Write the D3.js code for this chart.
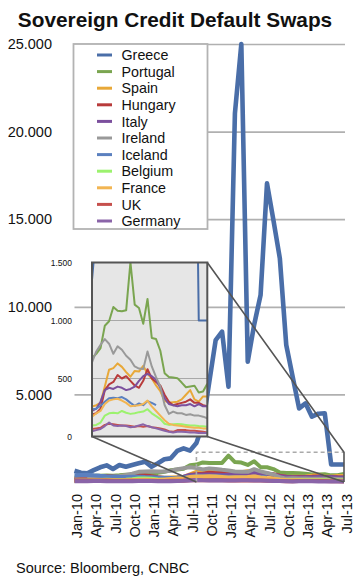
<!DOCTYPE html>
<html><head><meta charset="utf-8">
<script src="https://cdn.jsdelivr.net/npm/d3@7"></script>
<style>
html,body{margin:0;padding:0;background:#fff;}
text{font-family:"Liberation Sans",Arial,Helvetica,sans-serif;fill:#111;}
</style></head>
<body>
<svg id="chart" width="357" height="582"></svg>
<script>
// ---------- DATA ----------
const categories = ["Jan-10","Feb-10","Mar-10","Apr-10","May-10","Jun-10","Jul-10","Aug-10","Sep-10","Oct-10","Nov-10","Dec-10",
  "Jan-11","Feb-11","Mar-11","Apr-11","May-11","Jun-11","Jul-11","Aug-11","Sep-11","Oct-11","Nov-11","Dec-11",
  "Jan-12","Feb-12","Mar-12","Apr-12","May-12","Jun-12","Jul-12","Aug-12","Sep-12","Oct-12","Nov-12","Dec-12",
  "Jan-13","Feb-13","Mar-13","Apr-13","May-13","Jun-13","Jul-13"];
const tickLabels = ["Jan-10","Apr-10","Jul-10","Oct-10","Jan-11","Apr-11","Jul-11","Oct-11","Jan-12","Apr-12","Jul-12","Oct-12","Jan-13","Apr-13","Jul-13"];
const mainTicks = [5000,10000,15000,20000,25000];
const insetTicks = [0,500,1000,1500];
const insetGrid = [500,1000];
const insetStart = "Apr-11", insetEnd = "Jul-13";
const zoomStart = "Aug-11", zoomTop = 1700;

const seriesNames = ["Greece","Portugal","Spain","Hungary","Italy","Ireland","Iceland","Belgium","France","UK","Germany"];
const seriesColors = ["#4a6ea8","#7aa550","#e8a838","#b83b3b","#7b4f9d","#999999","#5b80bf","#9cf26e","#f2b552","#c6504d","#8a64a8"];

const greece   = [640,530,500,680,840,950,740,970,870,970,1070,1160,870,1070,1300,1350,1770,1920,1790,2230,3300,5700,8100,8580,5440,21040,25000,6870,8980,10670,17050,14950,12770,7820,6010,4200,4490,3730,3900,3920,1000,1000,1000];
const portugal = [250,270,300,360,350,370,360,380,420,430,470,500,520,520,580,676,713,762,955,993,1117,1085,1079,1088,1502,1137,1108,972,1186,849,840,739,546,512,509,503,465,425,431,437,379,388,454];
const spain    = [100,110,120,180,200,220,230,200,220,250,300,320,300,250,240,258,270,290,430,575,590,630,600,555,515,565,560,610,540,500,440,390,310,290,295,300,320,360,400,320,300,345,345];
const hungary  = [180,190,200,260,300,330,310,280,300,330,370,380,330,270,230,190,200,240,400,450,470,530,500,520,480,440,420,480,580,500,470,440,360,300,270,280,290,300,320,290,290,270,260];
const italy    = [100,110,120,180,200,190,180,170,200,220,230,220,200,190,200,220,240,300,400,420,410,430,420,400,410,430,480,520,540,520,490,420,330,280,270,260,270,270,280,260,280,260,260];
const ireland  = [150,140,160,230,250,280,300,330,400,480,580,600,620,600,600,640,733,791,840,800,713,777,748,696,661,604,586,581,733,604,511,431,272,195,215,200,200,186,192,180,180,171,157];
const iceland  = [380,400,420,380,350,330,320,300,290,300,300,280,270,250,240,235,240,265,300,330,335,330,340,320,290,265,285,270,305,290,270,null,null,null,null,null,null,null,null,null,null,null,null];
const belgium  = [60,70,80,100,110,130,120,110,130,160,200,200,180,140,110,95,100,120,180,200,205,200,220,205,195,200,210,215,235,200,175,150,110,100,105,108,105,100,95,95,90,88,85];
const france   = [50,60,65,80,90,100,95,90,100,110,120,130,120,110,140,170,200,220,280,310,320,325,310,290,260,265,270,280,310,260,220,180,140,110,100,95,90,85,80,75,75,70,70];
const uk       = [80,85,80,90,85,80,75,70,65,70,75,70,65,60,60,65,70,75,100,110,105,100,95,95,90,85,90,85,90,80,75,70,60,45,40,55,55,55,50,50,45,40,35];
const germany  = [40,40,45,50,50,45,40,38,40,45,50,55,50,45,42,45,55,65,90,120,95,90,95,90,80,85,95,105,90,80,70,60,50,40,35,40,40,38,35,35,30,30,30];

const seriesValues = [greece,portugal,spain,hungary,italy,ireland,iceland,belgium,france,uk,germany];

// ---------- DRAW ----------
const svg = d3.select("#chart");
const loc = d3.formatLocale({decimal:",", thousands:".", grouping:[3], currency:["",""]});
const fmt = loc.format(",");

const x = d3.scalePoint().domain(categories).range([74.5, 344]);
const y = d3.scaleLinear().domain([0, 25000]).range([482, 44]);

// title
const title = svg.append("text").attr("x", 175).attr("y", 27).attr("text-anchor","middle")
  .style("font-weight","bold").style("font-size","20.8px").text("Sovereign Credit Default Swaps");

// main gridlines + y labels
const yAxis = d3.axisLeft(y).tickValues(mainTicks).tickFormat(fmt).tickSize(-(345 - 74.5)).tickPadding(22.5);
const gy = svg.append("g").attr("transform","translate(74.5,0)").call(yAxis);
gy.select(".domain").remove();
gy.selectAll(".tick line").attr("stroke","#b0b0b0").attr("stroke-width",1.7);
gy.selectAll(".tick text").style("font-size","14.5px").attr("fill","#111").style("font-family",'"Liberation Sans",Arial,sans-serif');

// x axis labels
const xAxis = d3.axisBottom(x).tickValues(tickLabels).tickSize(0);
const gx = svg.append("g").attr("transform","translate(0,482)").call(xAxis);
gx.select(".domain").remove();
gx.selectAll(".tick text")
  .attr("transform","rotate(-90)").attr("x",-12).attr("y",2).attr("dy","0.35em")
  .attr("text-anchor","end").style("font-size","14.5px").attr("fill","#111")
  .style("font-family",'"Liberation Sans",Arial,sans-serif');

// main lines
const line = d3.line().defined(d => d != null)
  .x((d,i) => x(categories[i])).y(d => y(d));
seriesValues.forEach((vals, k) => {
  svg.append("path").datum(vals).attr("d", line).attr("fill","none")
    .attr("stroke", seriesColors[k]).attr("stroke-width", k === 0 ? 4.6 : 4)
    .attr("stroke-linejoin","round").attr("stroke-linecap","butt");
});

// dashed zoom rectangle
const zx0 = x(zoomStart), zx1 = x(insetEnd), zyTop = y(zoomTop), zyBot = y(0);
svg.append("path").attr("d", `M${zx0},${zyBot}V${zyTop}H${zx1}`)
  .attr("fill","none").attr("stroke","#aaa").attr("stroke-width",1.6).attr("stroke-dasharray","4,3");

// legend
const lg = svg.append("g");
lg.append("rect").attr("x",73.5).attr("y",44).attr("width",134).attr("height",185)
  .attr("fill","#fff").attr("stroke","#b3b3b3").attr("stroke-width",1.8);
seriesNames.forEach((n,i) => {
  const cy = 55 + i*16.6;
  lg.append("line").attr("x1",97).attr("x2",112).attr("y1",cy).attr("y2",cy)
    .attr("stroke",seriesColors[i]).attr("stroke-width",3);
  lg.append("text").attr("x",121.5).attr("y",cy).attr("dy","0.36em")
    .style("font-size","14.3px").text(n);
});

// inset
const iL = 92, iR = 207.3, iT = 262.5, iB = 436.5;
const xi = d3.scaleLinear().domain([categories.indexOf(insetStart), categories.indexOf(insetEnd)]).range([iL, iR]);
const yi = d3.scaleLinear().domain([0, 1500]).range([iB, iT]);
svg.append("defs").append("clipPath").attr("id","insetClip")
  .append("rect").attr("x",iL).attr("y",iT).attr("width",iR-iL).attr("height",iB-iT);
const ig = svg.append("g");
ig.append("rect").attr("x",iL).attr("y",iT).attr("width",iR-iL).attr("height",iB-iT).attr("fill","#e6e6e6");
ig.selectAll("line.ig").data(insetGrid).join("line").attr("class","ig")
  .attr("x1",iL).attr("x2",iR).attr("y1",d=>yi(d)).attr("y2",d=>yi(d))
  .attr("stroke","#a8a8a8").attr("stroke-width",1.2);
const iline = d3.line().defined(d => d != null).x((d,i) => xi(i)).y(d => yi(d));
const il = ig.append("g").attr("clip-path","url(#insetClip)");
seriesValues.forEach((vals,k) => {
  il.append("path").datum(vals).attr("d", iline).attr("fill","none")
    .attr("stroke", seriesColors[k]).attr("stroke-width", 2).attr("stroke-linejoin","round");
});
ig.append("rect").attr("x",iL).attr("y",iT).attr("width",iR-iL).attr("height",iB-iT)
  .attr("fill","none").attr("stroke","#555").attr("stroke-width",2);
const yiAxis = d3.axisLeft(yi).tickValues(insetTicks).tickFormat(fmt).tickSize(0).tickPadding(20);
const giy = svg.append("g").attr("transform",`translate(${iL},0)`).call(yiAxis);
giy.select(".domain").remove();
giy.selectAll(".tick text").style("font-size","8.5px").attr("fill","#111")
  .style("font-family",'"Liberation Sans",Arial,sans-serif');

// callout lines
const cl = svg.append("g").attr("stroke","#555").attr("stroke-width",1.6).attr("fill","none");
cl.append("line").attr("x1",iL).attr("y1",iB).attr("x2",zx0).attr("y2",zyBot);
cl.append("line").attr("x1",iR).attr("y1",iB).attr("x2",zx1).attr("y2",zyBot);
cl.append("path").attr("d",`M${iR},${iT}L${zx1},${zyTop}V${zyBot}`);

// source
svg.append("text").attr("x",16).attr("y",573).style("font-size","14.5px").text("Source: Bloomberg, CNBC");
</script>
</body></html>
